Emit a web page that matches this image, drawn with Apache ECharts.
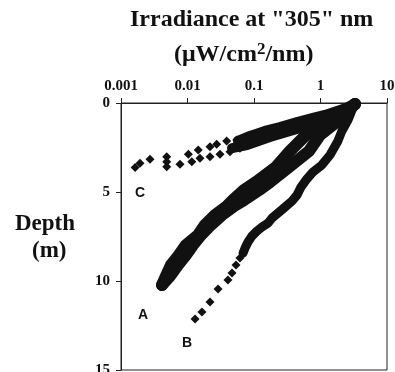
<!DOCTYPE html>
<html><head><meta charset="utf-8">
<script src="https://cdn.jsdelivr.net/npm/echarts@6/dist/echarts.min.js"></script>
<style>html,body{margin:0;padding:0;background:#fff}#c{width:395px;height:372px}</style>
</head><body><div id="c"></div>
<script>
// Tick labels
const xTickLabels = ['0.001', '0.01', '0.1', '1', '10'];
const yTickValues = [0, 5, 10, 15];

// Irradiance (µW/cm2/nm), depth (m)
const curveC_dots = [[0.00163,3.63],[0.00193,3.39],[0.00273,3.16],[0.00487,3.02],[0.00487,3.30],[0.00487,3.58],[0.00771,3.44],[0.0103,2.88],[0.0116,3.30],[0.0145,2.64],[0.0154,3.11],[0.0218,2.46],[0.0218,3.02],[0.0275,2.32],[0.0308,2.88],[0.0388,2.13],[0.0436,2.74],[0.055,2.08],[0.0615,2.54],[0.0776,2.17]];
const curveC_upper = [[0.0574,2.13],[0.0871,1.85],[0.146,1.57],[0.246,1.35],[0.444,1.07],[0.771,0.84],[1.17,0.67],[1.77,0.45],[2.42,0.28],[3.30,0.06]];
const curveC_lower = [[0.0467,2.53],[0.0785,2.36],[0.174,1.91],[0.444,1.46],[0.982,1.01],[1.96,0.51],[3.30,0.06]];
const curveA_left = [[0.00414,10.22],[0.00475,9.72],[0.00565,9.10],[0.00745,8.54],[0.00948,7.98],[0.0144,7.42],[0.0183,6.85],[0.0259,6.29],[0.0393,5.79],[0.0483,5.45],[0.0708,4.89],[0.107,4.44],[0.214,3.60],[0.348,2.70],[0.605,1.80],[1.39,0.90],[3.30,0.06]];
const curveA_right = [[0.00414,10.22],[0.00546,9.72],[0.00719,9.10],[0.00948,8.54],[0.0121,7.98],[0.0160,7.42],[0.0225,6.85],[0.0330,6.29],[0.0500,5.79],[0.0708,5.45],[0.119,4.89],[0.174,4.44],[0.336,3.60],[0.671,2.70],[0.982,1.80],[1.90,0.96],[3.30,0.06]];
const curveB_band = [[3.30,0],[2.98,0.39],[2.59,0.96],[2.10,1.57],[1.83,2.13],[1.39,2.92],[1.05,3.48],[0.771,3.88],[0.605,4.33],[0.509,4.72],[0.444,5.17],[0.372,5.51],[0.282,5.90],[0.230,6.18],[0.187,6.46],[0.163,6.74],[0.132,6.97],[0.111,7.19],[0.0933,7.47],[0.0813,7.81],[0.0733,8.15],[0.0684,8.43]];
const curveB_dots = [[0.0615,8.71],[0.0536,9.10],[0.0467,9.55],[0.0406,9.94],[0.0288,10.45],[0.0218,11.18],[0.0165,11.74],[0.0130,12.13]];
const surface = [[3.30,0.05]];
const curveLabels = [['C',0.00193,5.06],['A',0.00214,11.91],['B',0.00981,13.48]];

const INK = '#111';
const serif = '"Liberation Serif", "Times New Roman", serif';

function band(data, w) {
  return { type: 'line', data, symbol: 'none', clip: false, smooth: false,
    lineStyle: { color: INK, width: w, cap: 'round', join: 'round', opacity: 1 }, z: 3 };
}
function dots(data, size) {
  return { type: 'scatter', data, symbol: 'diamond', symbolSize: size, clip: false,
    itemStyle: { color: INK, opacity: 1 }, z: 4 };
}

const chart = echarts.init(document.getElementById('c'), null, { renderer: 'canvas' });
chart.setOption({
  animation: false,
  backgroundColor: '#fff',
  grid: { left: 121, top: 103, width: 266, height: 267, outerBoundsMode: 'none', containLabel: false,
    show: true, borderColor: '#222', borderWidth: 1, backgroundColor: 'transparent' },
  xAxis: {
    type: 'log', logBase: 10, min: 0.001, max: 10, position: 'top',
    axisLine: { show: true, lineStyle: { color: '#222', width: 1 } },
    axisTick: { show: true, inside: false, length: 5, lineStyle: { color: '#222' } },
    minorTick: { show: false },
    splitLine: { show: false },
    axisLabel: { margin: 9, color: '#111', fontFamily: serif, fontWeight: 'bold', fontSize: 15,
      formatter: v => xTickLabels[Math.round(Math.log10(v)) + 3] }
  },
  yAxis: {
    type: 'value', inverse: true, min: 0, max: 15, interval: 5,
    axisLine: { show: true, lineStyle: { color: '#222', width: 1 } },
    axisTick: { show: true, length: 5, lineStyle: { color: '#222' } },
    splitLine: { show: false },
    axisLabel: { margin: 11, color: '#111', fontFamily: serif, fontWeight: 'bold', fontSize: 15,
      formatter: v => yTickValues.includes(v) ? String(v) : '' }
  },
  graphic: [
    { type: 'text', left: 130, top: 8, style: { text: 'Irradiance at "305" nm', font: 'bold 24px ' + serif, fill: '#111' } },
    { type: 'text', left: 174, top: 41, style: {
        text: '(μW/cm{sup|2}/nm)', font: 'bold 24px ' + serif, fill: '#111',
        rich: { sup: { fontSize: 17, fontWeight: 'bold', fontFamily: serif, verticalAlign: 'top', padding: [0, 0, 10, 0] } } } },
    { type: 'text', left: 15, top: 213, style: { text: 'Depth', font: 'bold 23px ' + serif, fill: '#111' } },
    { type: 'text', left: 32, top: 240, style: { text: '(m)', font: 'bold 23px ' + serif, fill: '#111' } }
  ],
  series: [
    band(curveC_upper, 10),
    band(curveC_lower, 10),
    band(curveA_left, 12),
    band(curveA_right, 12),
    band(curveB_band, 9),
    dots(curveC_dots, 9),
    dots(curveB_dots, 9),
    { type: 'scatter', data: surface, symbol: 'circle', symbolSize: 12, clip: false, itemStyle: { color: INK, opacity: 1 }, z: 5 },
    { type: 'scatter', clip: false, symbolSize: 0, z: 6,
      itemStyle: { opacity: 1 },
      data: curveLabels.map(d => ({ name: d[0], value: [d[1], d[2]] })),
      label: { show: true, position: 'inside', formatter: p => p.name, color: '#111',
        fontFamily: 'Liberation Sans, Arial, sans-serif', fontWeight: 'bold', fontSize: 14 } }
  ]
});
</script></body></html>
